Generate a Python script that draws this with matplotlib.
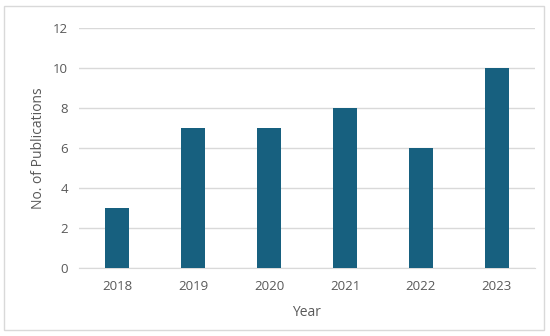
import matplotlib
matplotlib.use('Agg')
import matplotlib.pyplot as plt
from matplotlib.patches import Rectangle

years = ["2018", "2019", "2020", "2021", "2022", "2023"]
publications = [3, 7, 7, 8, 6, 10]
y_ticks = [0, 2, 4, 6, 8, 10, 12]

bar_color = "#17607f"
text_color = "#595959"
grid_color = "#d9d9d9"

plt.rcParams["font.family"] = ["Open Sans", "DejaVu Sans"]

fig = plt.figure(figsize=(5.5, 3.36), dpi=100)
fig.patch.set_facecolor("white")

# light frame round the chart area
fig.add_artist(Rectangle((4 / 550, 6 / 336), 540 / 550, 324 / 336,
                         transform=fig.transFigure, fill=False,
                         edgecolor="#d9d9d9", lw=1))

ax = fig.add_axes([0.1436, 0.2024, 0.829, 0.7143])
x = range(len(years))
ax.bar(x, publications, width=0.31, color=bar_color, zorder=3)

ax.set_xlim(-0.5, len(years) - 0.5)
ax.set_ylim(0, 12)
ax.set_yticks(y_ticks)
ax.set_xticks(list(x))
ax.set_xticklabels(years)
ax.yaxis.grid(True, color=grid_color, lw=1, zorder=0)

for s in ["top", "right", "left"]:
    ax.spines[s].set_visible(False)
ax.spines["bottom"].set_color(grid_color)
ax.tick_params(axis="both", length=0, colors=text_color, labelsize=9.5)
ax.tick_params(axis="y", pad=8)
ax.tick_params(axis="x", pad=9)

ax.set_xlabel("Year", fontsize=10, color=text_color, labelpad=8)
ax.set_ylabel("No. of Publications", fontsize=10, color=text_color, labelpad=5)

plt.savefig("out.png", dpi=100)
plt.close()
